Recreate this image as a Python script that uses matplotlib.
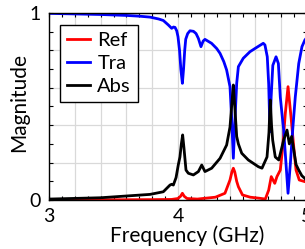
import matplotlib
matplotlib.use('Agg')
import matplotlib.pyplot as plt
from matplotlib.ticker import MultipleLocator, FuncFormatter

plt.rcParams['font.family'] = ['Lato', 'DejaVu Sans']

# Transmission (blue)
f_tra = [3.00, 3.20, 3.40, 3.60, 3.70, 3.783, 3.85, 3.886, 3.925, 3.951, 3.965, 3.977,
         3.99, 4.00, 4.012, 4.022, 4.034, 4.043, 4.052, 4.06, 4.075, 4.093, 4.12, 4.14,
         4.158, 4.178, 4.195, 4.209, 4.26, 4.30, 4.326, 4.355, 4.377, 4.403, 4.415,
         4.429, 4.443, 4.455, 4.468, 4.506, 4.558, 4.61, 4.661, 4.674, 4.692, 4.703,
         4.713, 4.722, 4.735, 4.76, 4.778, 4.793, 4.819, 4.837, 4.853, 4.871, 4.889,
         4.909, 4.936, 4.961, 4.984, 5.00]
tra = [0.998, 0.995, 0.992, 0.987, 0.983, 0.978, 0.968, 0.960, 0.936, 0.918, 0.925, 0.923,
       0.905, 0.873, 0.80, 0.70, 0.624, 0.70, 0.80, 0.86, 0.89, 0.905, 0.902, 0.89,
       0.864, 0.82, 0.85, 0.859, 0.838, 0.81, 0.784, 0.74, 0.695, 0.606, 0.45,
       0.223, 0.45, 0.624, 0.713, 0.758, 0.793, 0.816, 0.838, 0.829, 0.766, 0.62,
       0.365, 0.55, 0.72, 0.766, 0.73, 0.55, 0.374, 0.196, 0.036, 0.196, 0.374,
       0.55, 0.73, 0.82, 0.856, 0.87]

# Reflection (red)
f_ref = [3.00, 3.40, 3.80, 3.95, 4.00, 4.02, 4.034, 4.048, 4.07, 4.15, 4.29, 4.364,
         4.403, 4.418, 4.429, 4.44, 4.455, 4.468, 4.50, 4.56, 4.636, 4.677, 4.703,
         4.723, 4.750, 4.767, 4.793, 4.812, 4.832, 4.853, 4.876, 4.897, 4.915, 4.940,
         4.984, 5.00]
ref = [0.001, 0.001, 0.002, 0.003, 0.008, 0.02, 0.036, 0.02, 0.008, 0.005, 0.015, 0.036,
       0.107, 0.15, 0.17, 0.15, 0.10, 0.071, 0.027, 0.015, 0.009, 0.005, 0.053,
       0.125, 0.089, 0.125, 0.16, 0.285, 0.464, 0.606, 0.445, 0.285, 0.16, 0.107,
       0.098, 0.098]

# Absorption (black)
f_abs = [3.00, 3.40, 3.783, 3.886, 3.938, 3.951, 3.964, 3.985, 4.002, 4.015, 4.026,
         4.036, 4.046, 4.062, 4.080, 4.119, 4.158, 4.184, 4.209, 4.261, 4.326, 4.377,
         4.403, 4.418, 4.429, 4.440, 4.455, 4.468, 4.494, 4.545, 4.623, 4.651, 4.690,
         4.705, 4.7155, 4.725, 4.734, 4.754, 4.781, 4.819, 4.845, 4.863, 4.881, 4.897,
         4.915, 4.936, 4.96, 4.984, 5.00]
absorb = [0.005, 0.012, 0.03, 0.044, 0.08, 0.084, 0.08, 0.12, 0.187, 0.23, 0.30,
          0.348, 0.28, 0.16, 0.143, 0.134, 0.152, 0.187, 0.152, 0.17, 0.223, 0.294,
          0.39, 0.52, 0.615, 0.50, 0.34, 0.30, 0.25, 0.214, 0.178, 0.17, 0.23,
          0.36, 0.535, 0.40, 0.32, 0.23, 0.214, 0.32, 0.374, 0.30, 0.34, 0.27,
          0.19, 0.16, 0.13, 0.115, 0.10]

fig = plt.figure(figsize=(3.05, 2.49), dpi=100)
ax = fig.add_axes([49 / 305, 49 / 249, 258 / 305, 187 / 249])

ax.plot(f_ref, ref, color='#ff0000', lw=2, label='Ref')
ax.plot(f_tra, tra, color='#0000ff', lw=2, label='Tra')
ax.plot(f_abs, absorb, color='black', lw=2, label='Abs')

ax.set_xlim(3, 5)
ax.set_ylim(0, 1)

ax.xaxis.set_major_locator(MultipleLocator(0.2))
ax.xaxis.set_minor_locator(MultipleLocator(0.1))
ax.yaxis.set_major_locator(MultipleLocator(0.2))
ax.yaxis.set_minor_locator(MultipleLocator(0.1))
only_int = FuncFormatter(lambda v, p: '%d' % round(v) if abs(v - round(v)) < 1e-6 else '')
ax.xaxis.set_major_formatter(only_int)
ax.yaxis.set_major_formatter(only_int)

ax.grid(True, which='major', color='#d9d9d9', lw=0.9)
ax.set_axisbelow(True)
ax.tick_params(which='both', direction='in', top=True, right=True, length=3, width=0.8,
               labelsize=14)
ax.tick_params(axis='x', pad=6)
ax.tick_params(axis='y', pad=6)
for s in ax.spines.values():
    s.set_linewidth(1.0)

ax.set_xlabel('Frequency (GHz)', fontsize=15)
ax.set_ylabel('Magnitude', fontsize=15)
ax.xaxis.set_label_coords(0.537, -0.135)
ax.yaxis.set_label_coords(-0.078, 0.52)

leg = ax.legend(loc='upper left', bbox_to_anchor=(0.043, 0.936), borderaxespad=0,
                fontsize=14.5, handlelength=1.15, handletextpad=0.35, labelspacing=0.3,
                borderpad=0.35, fancybox=False, framealpha=1, edgecolor='black')
leg.get_frame().set_linewidth(1.0)

fig.savefig('out.png', dpi=100)
